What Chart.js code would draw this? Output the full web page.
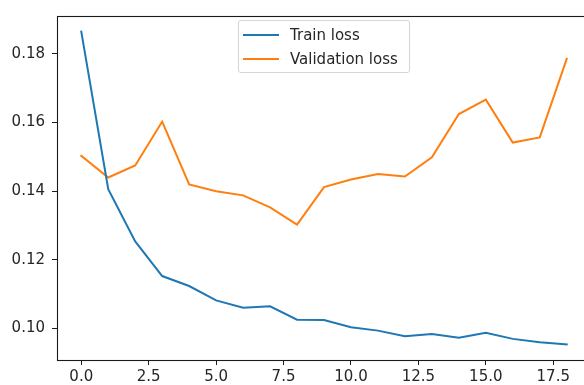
<!DOCTYPE html>
<html>
<head>
<meta charset="utf-8">
<script src="https://cdn.jsdelivr.net/npm/chart.js@4/dist/chart.umd.min.js"></script>
<style>
  html, body { margin: 0; padding: 0; background: #fff; overflow: hidden; width: 584px; height: 385px; }
  #wrap { position: relative; width: 620px; height: 400px; }
  #legend {
    position: absolute; left: 238px; top: 20px; width: 172px; height: 53px;
    box-sizing: border-box; border: 1px solid #d6d6d6; border-radius: 3px;
    background: rgba(255,255,255,0.8);
    font-family: "DejaVu Sans", sans-serif; font-size: 15px; color: #262626;
  }
  .row { position: absolute; left: 0; height: 22px; display: flex; align-items: center; white-space: nowrap; }
  .swatch { width: 36px; height: 2px; margin-left: 4px; margin-right: 11px; }
</style>
</head>
<body>
<div id="wrap">
  <canvas id="c" width="620" height="400"></canvas>
  <div id="legend"></div>
</div>
<script>
// Loss per epoch
const epochs = [0, 1, 2, 3, 4, 5, 6, 7, 8, 9, 10, 11, 12, 13, 14, 15, 16, 17, 18];
const trainLoss = [0.1865, 0.1406, 0.1254, 0.1153, 0.1124, 0.1082, 0.1061, 0.1065, 0.1026, 0.1025,
                   0.1004, 0.0994, 0.0978, 0.0984, 0.0973, 0.0988, 0.0970, 0.0960, 0.0954];
const valLoss = [0.1503, 0.1440, 0.1475, 0.1603, 0.1420, 0.1400, 0.1388, 0.1353, 0.1303, 0.1412,
                 0.1434, 0.1450, 0.1443, 0.1499, 0.1625, 0.1667, 0.1542, 0.1557, 0.1786];
const seriesNames = ['Train loss', 'Validation loss'];
const xTicks = [0, 2.5, 5, 7.5, 10, 12.5, 15, 17.5];
const yTicks = [0.10, 0.12, 0.14, 0.16, 0.18];

const BLUE = '#1f77b4';
const ORANGE = '#ff7f0e';
const FONT = { family: '"DejaVu Sans", sans-serif', size: 15 };
const TEXT = '#262626';

// axis limits with a 5% margin around the data
const allY = trainLoss.concat(valLoss);
const yLo = Math.min(...allY), yHi = Math.max(...allY);
const yPad = (yHi - yLo) * 0.05;
const xLo = Math.min(...epochs), xHi = Math.max(...epochs);
const xPad = (xHi - xLo) * 0.05;

const toPoints = vals => vals.map((v, i) => ({ x: epochs[i], y: v }));

// full rectangular frame around the plot area
const framePlugin = {
  id: 'frame',
  afterDraw(chart) {
    const { ctx, chartArea: a } = chart;
    ctx.save();
    ctx.strokeStyle = '#1a1a1a';
    ctx.lineWidth = 1.1;
    ctx.strokeRect(Math.round(a.left) + 0.5, Math.round(a.top) + 0.5,
                   Math.round(a.right - a.left), Math.round(a.bottom - a.top));
    ctx.restore();
  }
};

const chart = new Chart(document.getElementById('c'), {
  type: 'line',
  data: {
    datasets: [
      { label: seriesNames[0], data: toPoints(trainLoss), borderColor: BLUE, backgroundColor: BLUE },
      { label: seriesNames[1], data: toPoints(valLoss), borderColor: ORANGE, backgroundColor: ORANGE }
    ]
  },
  options: {
    responsive: false,
    animation: false,
    devicePixelRatio: 1,
    layout: { padding: { top: 12, right: 29, left: 0, bottom: 0 } },
    elements: {
      line: { borderWidth: 2, tension: 0, borderCapStyle: 'square', borderJoinStyle: 'miter' },
      point: { radius: 0, hoverRadius: 0 }
    },
    plugins: { legend: { display: false }, tooltip: { enabled: false } },
    scales: {
      x: {
        type: 'linear',
        min: xLo - xPad,
        max: xHi + xPad,
        afterBuildTicks: s => { s.ticks = xTicks.map(v => ({ value: v })); },
        afterFit: s => { s.height = 40; },
        grid: { drawOnChartArea: false, drawTicks: true, tickLength: 5, color: '#1a1a1a', tickWidth: 1 },
        border: { display: false },
        ticks: { font: FONT, color: TEXT, padding: 3, maxRotation: 0, callback: v => v.toFixed(1) }
      },
      y: {
        type: 'linear',
        min: yLo - yPad,
        max: yHi + yPad,
        afterBuildTicks: s => { s.ticks = yTicks.map(v => ({ value: v })); },
        afterFit: s => { s.width = 57; },
        grid: { drawOnChartArea: false, drawTicks: true, tickLength: 5, color: '#1a1a1a', tickWidth: 1 },
        border: { display: false },
        ticks: { font: FONT, color: TEXT, padding: 7, callback: v => v.toFixed(2) }
      }
    }
  },
  plugins: [framePlugin]
});

// legend built from the chart's datasets
const legend = document.getElementById('legend');
chart.data.datasets.forEach((ds, i) => {
  const row = document.createElement('div');
  row.className = 'row';
  row.style.top = (3 + i * 24) + 'px';
  const sw = document.createElement('span');
  sw.className = 'swatch';
  sw.style.background = ds.borderColor;
  const tx = document.createElement('span');
  tx.textContent = ds.label;
  row.appendChild(sw);
  row.appendChild(tx);
  legend.appendChild(row);
});
</script>
</body>
</html>
